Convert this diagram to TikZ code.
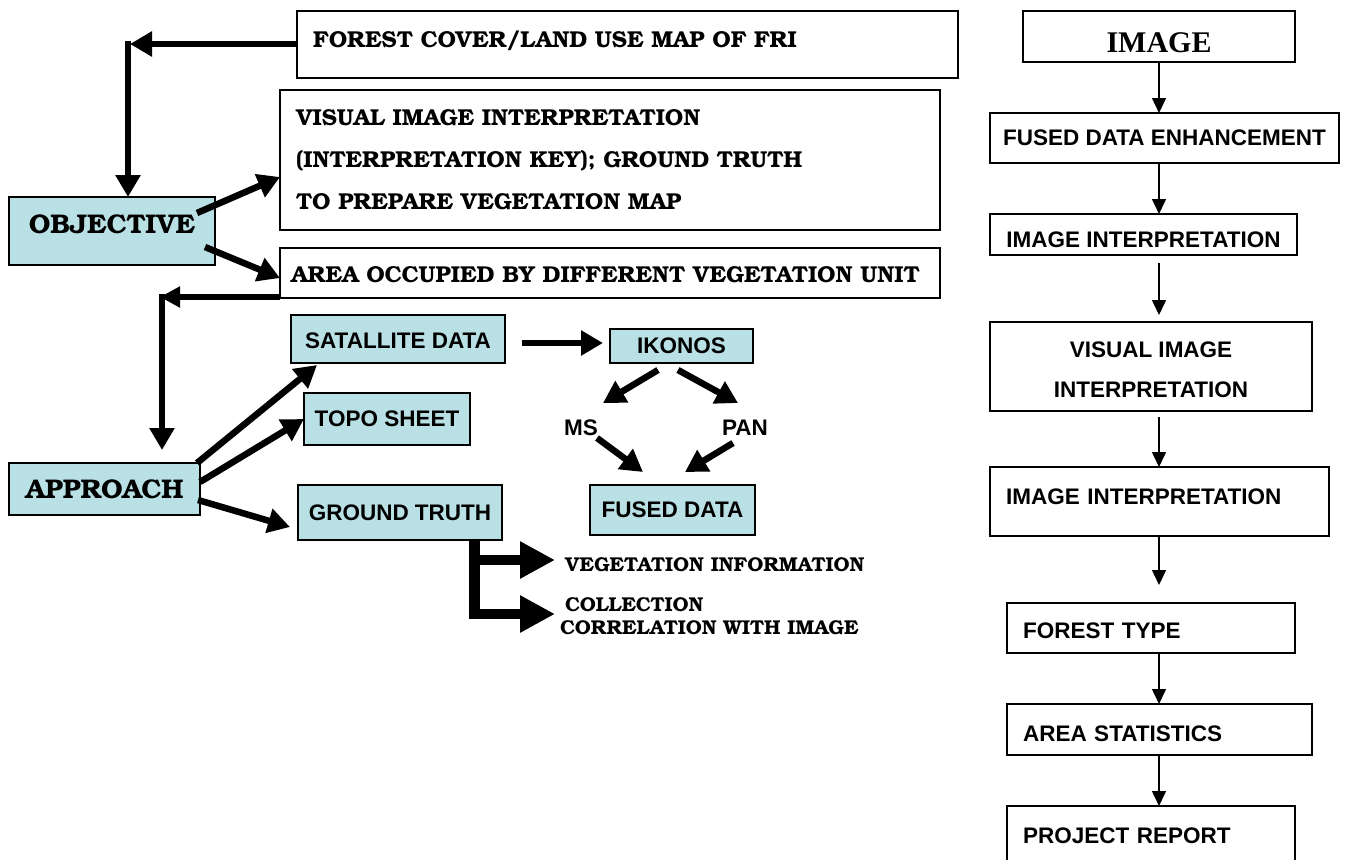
\documentclass[tikz,border=0pt]{standalone}
\usepackage{fontspec}
\usetikzlibrary{arrows.meta,calc}
\IfFontExistsTF{TeX Gyre Bonum}{\newfontfamily\bk{TeX Gyre Bonum}}{\newfontfamily\bk{DejaVu Serif}}
\newfontfamily\ar{Liberation Sans}
\newfontfamily\tnr{Liberation Serif}
\definecolor{cy}{RGB}{185,224,228}
\newcommand\shiftup[2]{\raisebox{#1}[\height][\depth]{#2}}
\begin{document}
\begin{tikzpicture}[x=1pt,y=-1pt,
  box/.style={draw=black,line width=1.5pt,inner sep=0pt,outer sep=0pt},
  cbox/.style={box,fill=cy},
  sans/.style={font=\ar\bfseries\fontsize{22.5}{27}\selectfont},
  serif/.style={font=\bk\bfseries\fontsize{23}{42}\selectfont},
  bigserif/.style={font=\bk\bfseries\fontsize{27}{32}\selectfont},
  smallserif/.style={font=\bk\bfseries\fontsize{20}{22}\selectfont},
  big/.style={-{Triangle[length=22pt,width=24pt]},line width=6.5pt},
  thinarr/.style={-{Triangle[length=15pt,width=14pt]},line width=1.5pt},
  huge/.style={-{Triangle[length=35pt,width=35pt]},line width=10pt},
]
\useasboundingbox (0,0) rectangle (1346,859);

% ---------- left part ----------
\node[box,serif,minimum height=67pt,text width=629pt,inner xsep=16pt,align=left] (forest) at (627.5,44.5) {\shiftup{4pt}{FOREST COVER/LAND USE MAP OF FRI}};
\node[box,serif,minimum height=140pt,text width=628pt,inner xsep=16pt,align=left] (visual) at (610,160) {VISUAL IMAGE INTERPRETATION\\(INTERPRETATION KEY); GROUND TRUTH\\TO PREPARE VEGETATION MAP};
\node[box,serif,minimum height=50pt,text width=638pt,inner xsep=11pt,align=left] (area) at (610,273) {\shiftup{-2pt}{AREA OCCUPIED BY DIFFERENT VEGETATION UNIT}};

\node[cbox,bigserif,minimum width=206pt,minimum height=68pt] (objective) at (112,231) {\shiftup{7pt}{OBJECTIVE}};
\node[cbox,bigserif,minimum width=191pt,minimum height=52pt] (approach) at (104.5,489) {APPROACH};

\node[cbox,sans,minimum width=214pt,minimum height=48pt] (sat) at (398,339) {\shiftup{-2pt}{SATALLITE DATA}};
\node[cbox,sans,minimum width=166pt,minimum height=52pt] (topo) at (387,419) {TOPO SHEET};
\node[cbox,sans,minimum width=204pt,minimum height=55pt] (gt) at (400,512.5) {GROUND TRUTH};
\node[cbox,sans,minimum width=143pt,minimum height=34pt] (ikonos) at (681.5,346) {IKONOS};
\node[cbox,sans,minimum width=165pt,minimum height=50pt] (fused) at (672.5,510) {FUSED DATA};
\node[sans,inner sep=0pt] (ms) at (581,428) {MS};
\node[sans,inner sep=0pt] (pan) at (745,428) {PAN};

\node[smallserif,inner sep=0pt,anchor=west] (veg) at (565,565) {VEGETATION INFORMATION};
\node[smallserif,inner sep=0pt,anchor=west] (coll) at (565,605) {COLLECTION};
\node[smallserif,inner sep=0pt,anchor=west] (corr) at (560,628) {CORRELATION WITH IMAGE};

% connectors left
\coordinate (c1) at (130,44);
\draw[big] (forest.west |- c1) -- (c1);
\draw[big] ($(c1)+(-2,-3)$) -- ($(c1 |- objective.north)+(-2,0)$);
\draw[big] ($(objective.north east)+(-18,16)$) -- ($(visual.north west)+(0,87)$);
\draw[big] ($(objective.south east)+(-10,-18)$) -- ($(area.west)+(0,5)$);

\coordinate (c2) at (160,297);
\draw[-{Triangle[length=20pt,width=20pt]},line width=5.5pt] (area.south west |- c2) -- (c2);
\draw[big] ($(c2)+(2,-3)$) -- ($(c2 |- approach.north)+(2,-13)$);

\draw[big] ($(approach.north east)+(-3,0)$) -- ($(sat.south west)+(26,2)$);
\draw[big] ($(approach.east)+(0,-7)$) -- (topo.west);
\draw[big] ($(approach.east)+(-2,11)$) -- ($(gt.west)+(-8,14.5)$);

\draw[big] ($(sat.east)+(17,4)$) -- ($(ikonos.west)+(-7,-3)$);
\draw[big] ($(ikonos.south)+(-23.5,7)$) -- ($(ms)+(22,-25)$);
\draw[big] ($(ikonos.south)+(-3.5,7)$) -- ($(pan)+(-7,-25)$);
\draw[big] ($(ms)+(16,10)$) -- ($(fused.north)+(-29.5,-13)$);
\draw[big] ($(pan)+(-12,15)$) -- ($(fused.north)+(12.5,-13)$);

\coordinate (bv) at (474.5,540);
\coordinate (b1) at (474.5,560);
\coordinate (b2) at (474.5,614);
\coordinate (t1) at (555,560);
\coordinate (t2) at (555,614);
\draw[line width=11pt] (gt.south -| bv) -- ($(b2)+(0,5)$);
\draw[huge] ($(b1)+(-5,0)$) -- (t1);
\draw[huge] ($(b2)+(-5,0)$) -- (t2);

% ---------- right column ----------
\node[box,font=\tnr\bfseries\fontsize{30}{36}\selectfont,minimum width=272pt,minimum height=51pt] (img) at (1159,36.5) {\shiftup{-6pt}{IMAGE}};
\node[box,sans,minimum width=349pt,minimum height=50pt] (fde) at (1164.5,138) {FUSED DATA ENHANCEMENT};
\node[box,sans,minimum width=307pt,minimum height=41pt] (ii1) at (1143.5,234.5) {\shiftup{-5pt}{IMAGE INTERPRETATION}};
\node[box,font=\ar\bfseries\fontsize{22.5}{40}\selectfont,minimum width=322pt,minimum height=89pt,align=center] (vii) at (1151,366.5) {\shiftup{-3pt}{VISUAL IMAGE}\\\shiftup{-3pt}{INTERPRETATION}};
\node[box,sans,minimum height=69pt,text width=307pt,inner xsep=16pt,align=left] (ii2) at (1159.5,501.5) {\shiftup{5pt}{IMAGE INTERPRETATION}};
\node[box,sans,minimum height=50pt,text width=256pt,inner xsep=16pt,align=left] (ft) at (1151,628) {\shiftup{-3pt}{FOREST TYPE}};
\node[box,sans,minimum height=51pt,text width=273pt,inner xsep=16pt,align=left] (as) at (1159.5,729.5) {\shiftup{-4pt}{AREA STATISTICS}};
\node[box,sans,minimum height=60pt,text width=256pt,inner xsep=16pt,align=left] (pr) at (1151,836) {PROJECT REPORT};

\draw[thinarr] (img.south) -- (img.south |- fde.north);
\draw[thinarr] (fde.south -| img.south) -- (ii1.north -| img.south);
\draw[thinarr,shorten <=8pt] (ii1.south -| img.south) -- ($(vii.north -| img.south)+(0,-7)$);
\draw[thinarr,shorten <=6pt] (vii.south -| img.south) -- (ii2.north -| img.south);
\draw[thinarr] (ii2.south -| img.south) -- ($(ft.north -| img.south)+(0,-18)$);
\draw[thinarr] (ft.south -| img.south) -- (as.north -| img.south);
\draw[thinarr] (as.south -| img.south) -- (pr.north -| img.south);
\end{tikzpicture}
\end{document}
